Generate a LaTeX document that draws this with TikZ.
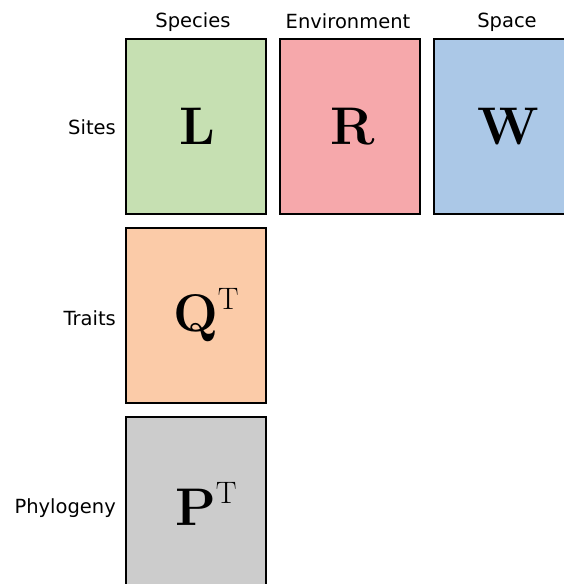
\documentclass[tikz,border=0pt]{standalone}
\usepackage{fontspec}
\setmainfont{DejaVu Sans}
\newfontfamily\lmr{Latin Modern Roman}
\newcommand{\matsym}[1]{{\lmr\bfseries #1}}
\newcommand{\supT}{\raisebox{22pt}{\lmr\fontsize{31}{31}\selectfont T}}
\definecolor{cL}{RGB}{198,224,178}
\definecolor{cR}{RGB}{246,168,171}
\definecolor{cW}{RGB}{171,200,231}
\definecolor{cQ}{RGB}{251,203,168}
\definecolor{cP}{RGB}{204,204,204}
\begin{document}
\begin{tikzpicture}[x=1pt,y=-1pt,
  mat/.style={draw=black,line width=1.6pt,minimum width=140pt,minimum height=175pt,inner sep=0pt,anchor=north west,
    font=\fontsize{53}{53}\selectfont},
  lab/.style={font=\fontsize{19.5}{23}\selectfont,inner sep=0pt}]
\useasboundingbox (0,0) rectangle (563,584);
\node[mat,fill=cL] (L) at (125,38) {\hspace{4pt}\matsym{L}};
\node[mat,fill=cR] (R) at (279,38) {\hspace{6pt}\matsym{R}};
\node[mat,fill=cW] (W) at (433,38) {\hspace{8pt}\matsym{W}};
\node[mat,fill=cQ] (Q) at (125,227) {\hspace{20pt}\matsym{Q}\supT};
\node[mat,fill=cP] (P) at (125,416) {\hspace{20pt}\matsym{P}\supT};
\node[lab] (sp) at (193,22) {Species};
\node[lab] (en) at (348,21) {Environment};
\node[lab] (spc) at (507,22) {Space};
\node[lab,anchor=east] (si) at (116,127) {Sites};
\node[lab,anchor=east] (tr) at (116,318) {Traits};
\node[lab,anchor=east] (ph) at (116,508) {Phylogeny};
\end{tikzpicture}
\end{document}
